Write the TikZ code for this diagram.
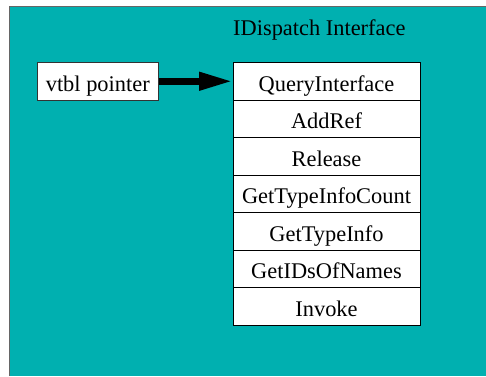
\documentclass[tikz,border=0pt]{standalone}
\usepackage{fontspec}
\setmainfont{Liberation Serif}
\usepackage{xcolor}
\usepackage{tikz}
\usetikzlibrary{arrows.meta,positioning}

\definecolor{ifaceteal}{RGB}{0,176,176}

\tikzset{
  slot/.style={draw=black, line width=0.8pt, fill=white, inner sep=0pt, outer sep=0pt,
    minimum width=187pt, minimum height=37.5pt, text height=21pt, text depth=1pt,
    font=\fontsize{22.4}{26}\selectfont},
  ptrbox/.style={slot, draw=black!80, minimum width=121.5pt},
  ptrarrow/.style={line width=7pt, -{Triangle[length=34pt,width=17pt]}}
}

\begin{document}
\begin{tikzpicture}[x=1pt,y=-1pt]
\useasboundingbox (0,0) rectangle (486,376);
\fill[ifaceteal] (9,6) rectangle (486,376);
\draw[black!60, line width=1pt] (486,6) -- (9,6) -- (9,376);
\node[anchor=base west, inner sep=0pt, font=\fontsize{22.4}{26}\selectfont] (title) at (233,35) {IDispatch Interface};
\node[slot, anchor=north west] (qi) at (233,62.5) {QueryInterface};
\node[slot, below=0pt of qi] (addref) {AddRef};
\node[slot, below=0pt of addref] (release) {Release};
\node[slot, below=0pt of release] (gtic) {GetTypeInfoCount};
\node[slot, below=0pt of gtic] (gti) {GetTypeInfo};
\node[slot, below=0pt of gti] (gidn) {GetIDsOfNames};
\node[slot, below=0pt of gidn] (invoke) {Invoke};
\node[ptrbox, anchor=north west] (vtbl) at (37,62.5) {vtbl pointer};
\draw[ptrarrow] (vtbl.east) -- (qi.west);
\end{tikzpicture}
\end{document}
